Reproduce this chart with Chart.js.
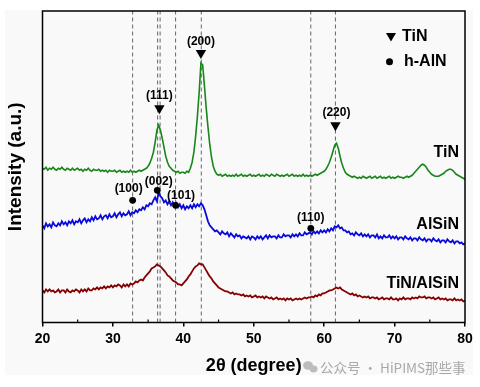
<!DOCTYPE html>
<html><head><meta charset="utf-8">
<script src="https://cdn.jsdelivr.net/npm/chart.js@4.4.1/dist/chart.umd.min.js"></script>
<style>html,body{margin:0;padding:0;background:#fff;}#wrap{width:480px;height:387px;}</style>
</head><body><div id="wrap"><canvas id="c" width="480" height="387"></canvas></div>
<script>
// 2θ grid (degrees)
const twoTheta = [
20,20.25,20.5,20.75,21,21.25,21.5,21.75,22,22.25,22.5,22.75,23,23.25,23.5,23.75,
24,24.25,24.5,24.75,25,25.25,25.5,25.75,26,26.25,26.5,26.75,27,27.25,27.5,27.75,
28,28.25,28.5,28.75,29,29.25,29.5,29.75,30,30.25,30.5,30.75,31,31.25,31.5,31.75,
32,32.25,32.5,32.75,33,33.25,33.5,33.75,34,34.25,34.5,34.75,35,35.25,35.5,35.75,
36,36.25,36.5,36.75,37,37.25,37.5,37.75,38,38.25,38.5,38.75,39,39.25,39.5,39.75,
40,40.25,40.5,40.75,41,41.25,41.5,41.75,42,42.25,42.5,42.75,43,43.25,43.5,43.75,
44,44.25,44.5,44.75,45,45.25,45.5,45.75,46,46.25,46.5,46.75,47,47.25,47.5,47.75,
48,48.25,48.5,48.75,49,49.25,49.5,49.75,50,50.25,50.5,50.75,51,51.25,51.5,51.75,
52,52.25,52.5,52.75,53,53.25,53.5,53.75,54,54.25,54.5,54.75,55,55.25,55.5,55.75,
56,56.25,56.5,56.75,57,57.25,57.5,57.75,58,58.25,58.5,58.75,59,59.25,59.5,59.75,
60,60.25,60.5,60.75,61,61.25,61.5,61.75,62,62.25,62.5,62.75,63,63.25,63.5,63.75,
64,64.25,64.5,64.75,65,65.25,65.5,65.75,66,66.25,66.5,66.75,67,67.25,67.5,67.75,
68,68.25,68.5,68.75,69,69.25,69.5,69.75,70,70.25,70.5,70.75,71,71.25,71.5,71.75,
72,72.25,72.5,72.75,73,73.25,73.5,73.75,74,74.25,74.5,74.75,75,75.25,75.5,75.75,
76,76.25,76.5,76.75,77,77.25,77.5,77.75,78,78.25,78.5,78.75,79,79.25,79.5,79.75,
80];

// Offset intensities (a.u.)
const tinIntensity = [
154,153,155,152, 154,153,155,153, 152,154,153,155, 153,152,154,153,
152,154,152,153, 154,152,153,151, 153,152,154,152, 151,153,152,152,
153,151,152,151, 152,150,152,151, 151,152,150,151, 152,150,151,150,
151,150,152,150, 151,150,151,152, 151,152,153,154, 156,159,164,170,
180,192,197,192, 184,175,166,160, 156,154,152,151, 150,151,149,150,
150,149,151,150, 154,160,170,186, 206,230,259,257, 236,214,195,178,
165,156,151,148, 147,148,146,147, 148,146,147,146, 147,146,148,146,
147,148,146,147, 146,147,148,146, 147,146,147,148, 146,147,146,148,
147,146,148,147, 146,148,147,146, 147,146,147,148, 146,147,148,146,
147,146,147,146, 148,146,147,146, 147,146,147,148, 147,148,149,150,
151,153,156,160, 165,171,177,179, 174,166,159,154, 150,148,147,146,
145,146,145,144, 145,144,146,145, 144,145,146,144, 145,146,144,145,
146,144,145,144, 145,146,144,145, 144,145,146,145, 145,144,145,146,
145,146,147,149, 151,153,155,157, 158,157,155,152, 150,148,147,146,
146,146,147,148, 149,151,152,153, 153,152,150,148, 147,146,145,144,
143];

const alsinIntensity = [
97,94,99,96, 98,95,100,97, 96,99,97,101, 98,100,97,101,
99,102,98,101, 100,103,99,102, 104,100,103,101, 105,102,106,103,
104,107,103,106, 107,104,108,105, 106,109,105,108, 110,106,109,107,
108,111,107,110, 109,112,110,113, 112,115,113,117, 116,119,118,122,
125,121,130,126, 124,120,122,118, 121,117,120,116, 119,115,118,114,
117,113,116,114, 117,114,118,115, 118,116,119,117, 113,107,101,97,
95,93,91,92, 90,88,91,89, 88,90,86,89, 87,85,88,86,
87,84,86,85, 84,86,83,86, 85,83,86,84, 86,83,85,87,
84,87,85,86, 86,84,87,85, 85,88,86,87, 87,85,88,86,
88,86,89,87, 87,90,88,89, 90,88,91,89, 91,89,92,90,
92,90,93,91, 94,92,96,95, 97,94,95,92, 92,90,91,88,
89,87,90,88, 87,89,86,88, 86,88,85,87, 87,85,88,84,
86,84,87,85, 85,87,84,86, 84,86,83,85, 85,83,86,84,
83,85,82,84, 84,82,85,83, 82,84,81,83, 83,81,84,82,
81,83,80,82, 82,80,83,81, 80,82,79,81, 81,79,80,78,
79];

const tinAlsinIntensity = [
32,30,33,31, 33,31,32,30, 31,33,30,32, 32,30,33,31,
30,32,31,33, 32,30,33,31, 33,31,34,32, 32,34,33,35,
33,35,34,36, 34,36,35,37, 35,37,36,38, 37,35,38,36,
38,36,39,38, 39,41,40,42, 43,42,45,47, 49,51,54,55,
56,58,57,56, 54,52,50,47, 46,44,42,41, 40,38,38,37,
39,41,43,46, 48,51,54,56, 57,59,58,58, 55,52,49,46,
44,41,39,37, 35,34,33,32, 31,31,30,29, 30,28,29,28,
28,27,28,26, 27,26,27,25, 26,27,25,26, 25,26,24,26,
25,24,25,23, 24,25,23,24, 23,24,22,24, 23,24,22,23,
24,23,24,23, 24,25,24,25, 25,26,25,27, 26,28,27,29,
29,30,31,32, 32,33,34,35, 34,35,33,32, 31,30,29,28,
29,27,28,26, 27,26,25,26, 25,26,24,25, 25,24,25,23,
24,25,23,24, 24,23,25,23, 23,24,22,24, 23,25,23,24,
24,23,25,24, 25,24,26,25, 25,26,24,25, 25,24,25,23,
24,25,23,24, 23,24,22,23, 23,22,24,22, 23,22,23,21,
22];

const seriesNames = ['TiN', 'AlSiN', 'TiN/AlSiN'];

// reference (dashed) 2θ positions
const refLines = [32.8, 36.35, 36.7, 38.9, 42.55, 58.1, 61.6];

// TiN peak markers
const tinPeakPos = [36.6, 42.5, 61.6];
const tinMarkerLevel = [214, 269, 197];
const tinPeakLabels = ['(111)', '(200)', '(220)'];

// h-AlN markers
const alnPeakPos = [32.8, 36.3, 38.9, 58.1];
const alnMarkerLevel = [122, 132, 117, 94];
const alnPeakLabels = ['(100)', '(002)', '(101)', '(110)'];

const xTicks = [20, 30, 40, 50, 60, 70, 80];
const yMin = 0, yMax = 311;

const FONT = '"Liberation Sans", Arial, sans-serif';
const toXY = (ys) => twoTheta.map((x, i) => ({x: x, y: ys[i]}));

const datasets = [];
refLines.forEach(v => datasets.push({
  data: [{x: v, y: yMin}, {x: v, y: yMax}], showLine: true, pointRadius: 0,
  borderColor: '#666', borderWidth: 1, borderDash: [4, 3], order: 10
}));
const colors = ['#1a861a', '#0a0adc', '#850000'];
const widths = [1.6, 1.8, 1.8];
[tinIntensity, alsinIntensity, tinAlsinIntensity].forEach((ys, k) => datasets.push({
  label: seriesNames[k], data: toXY(ys), showLine: true, pointRadius: 0,
  borderColor: colors[k], borderWidth: widths[k], tension: 0, order: 5
}));
datasets.push({
  label: 'TiN', data: tinPeakPos.map((x, i) => ({x: x, y: tinMarkerLevel[i]})),
  pointStyle: 'triangle', rotation: 180, pointRadius: 6, backgroundColor: '#000', borderColor: '#000', borderWidth: 0, order: 0
});
datasets.push({
  label: 'h-AlN', data: alnPeakPos.map((x, i) => ({x: x, y: alnMarkerLevel[i]})),
  pointStyle: 'circle', pointRadius: 3.4, backgroundColor: '#000', borderColor: '#000', borderWidth: 0, order: 0
});

const tinLabelOffsets = [[0, -12], [0, -11], [1, -12]];
const alnLabelOffsets = [[-4, -12], [1.5, -8.5], [5.5, -10], [0, -11]];
const seriesLabelY = [153, 225, 284];

const decor = {
  id: 'decor',
  beforeDraw(chart) {
    const c = chart.ctx;
    c.save();
    c.fillStyle = '#ffffff'; c.fillRect(0, 0, chart.width, chart.height);
    c.fillStyle = '#f9f9f9'; c.fillRect(5, 10, 468, 365);
    c.restore();
  },
  afterDatasetsDraw(chart) {
    const c = chart.ctx, a = chart.chartArea, xs = chart.scales.x, ys = chart.scales.y;
    c.save();
    // frame
    c.strokeStyle = '#000'; c.lineWidth = 1.5;
    c.strokeRect(a.left, a.top, a.right - a.left, a.bottom - a.top);
    // minor ticks (inward)
    c.lineWidth = 1.2;
    for (let v = 25; v < 80; v += 10) {
      const px = xs.getPixelForValue(v);
      c.beginPath(); c.moveTo(px, a.bottom); c.lineTo(px, a.bottom - 3); c.stroke();
    }
    // peak labels
    c.fillStyle = '#000';
    c.font = 'bold 12px ' + FONT;
    c.textAlign = 'center'; c.textBaseline = 'middle';
    tinPeakPos.forEach((x, i) => {
      c.fillText(tinPeakLabels[i], xs.getPixelForValue(x) + tinLabelOffsets[i][0], ys.getPixelForValue(tinMarkerLevel[i]) + tinLabelOffsets[i][1]);
    });
    alnPeakPos.forEach((x, i) => {
      c.fillText(alnPeakLabels[i], xs.getPixelForValue(x) + alnLabelOffsets[i][0], ys.getPixelForValue(alnMarkerLevel[i]) + alnLabelOffsets[i][1]);
    });
    // series labels
    c.font = 'bold 16px ' + FONT;
    c.textAlign = 'right';
    seriesNames.forEach((n, i) => c.fillText(n, a.right - 6, seriesLabelY[i]));
    // legend
    c.textAlign = 'left';
    const lx = 391;
    c.beginPath(); c.moveTo(lx - 5, 33); c.lineTo(lx + 5, 33); c.lineTo(lx, 41.5); c.closePath(); c.fill();
    c.fillText('TiN', 402, 37);
    c.beginPath(); c.arc(389.5, 61.7, 3.5, 0, Math.PI * 2); c.fill();
    c.fillText('h-AlN', 404, 62);
    // watermark
    c.fillStyle = '#bdbdbd';
    c.beginPath(); c.ellipse(308, 365.5, 5, 4.2, 0, 0, Math.PI * 2); c.fill();
    c.beginPath(); c.ellipse(313.5, 369, 4, 3.4, 0, 0, Math.PI * 2); c.fill();
    c.fillStyle = '#a9a9a9';
    c.font = '13.5px "Noto Sans CJK SC", sans-serif';
    c.fillText('公众号 · HiPIMS那些事', 320, 367.5);
    c.restore();
  }
};

new Chart(document.getElementById('c'), {
  type: 'scatter',
  data: {datasets: datasets},
  options: {
    responsive: false, animation: false, devicePixelRatio: 1,
    layout: {padding: {top: 11, right: 15, left: 0, bottom: 0}},
    plugins: {legend: {display: false}, tooltip: {enabled: false}},
    scales: {
      x: {
        type: 'linear', min: 20, max: 80,
        afterBuildTicks: s => { s.ticks = xTicks.map(v => ({value: v})); },
        afterFit: s => { s.height = 64.5; },
        ticks: {color: '#000', font: {family: FONT, weight: 'bold', size: 14}, padding: 4, maxRotation: 0},
        grid: {drawOnChartArea: false, drawTicks: true, tickLength: 4, color: '#000', lineWidth: 1.5},
        border: {display: false},
        title: {display: true, text: '2θ (degree)', color: '#000', font: {family: FONT, weight: 'bold', size: 18}, padding: {top: 0, bottom: 10}}
      },
      y: {
        type: 'linear', min: yMin, max: yMax,
        afterFit: s => { s.width = 42.5; },
        ticks: {display: false},
        grid: {display: false},
        border: {display: false},
        title: {display: true, text: 'Intensity (a.u.)', color: '#000', font: {family: FONT, weight: 'bold', size: 19}, padding: {top: 4, bottom: 0}}
      }
    }
  },
  plugins: [decor]
});
</script>
</body></html>
